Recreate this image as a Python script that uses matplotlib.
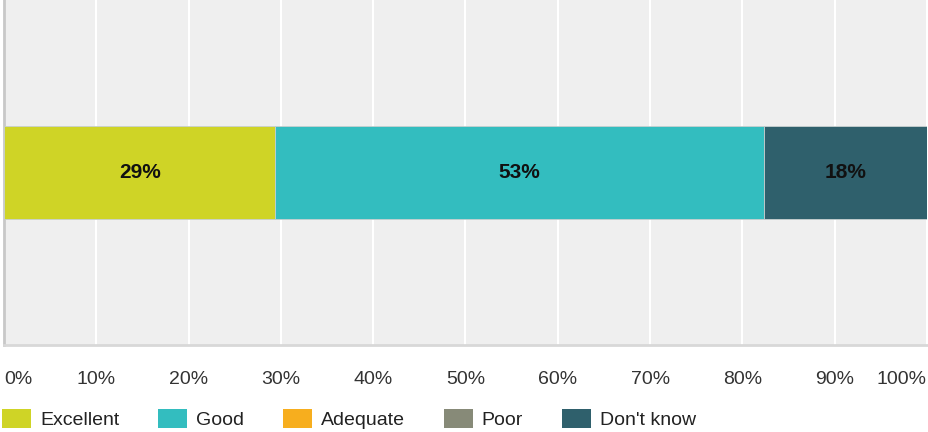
import numpy as np
import matplotlib.pyplot as plt
from matplotlib.patches import Patch

plt.rcParams['font.family'] = ['Liberation Sans', 'DejaVu Sans']

# survey answers, share of respondents (%)
categories = ['Excellent', 'Good', 'Adequate', 'Poor', "Don't know"]
values = [29.4, 52.9, 0, 0, 17.7]
labels = ['29%', '53%', '', '', '18%']
colors = ['#cfd426', '#33bdbf', '#f7ae1e', '#878a78', '#2f606c']
ticks = np.arange(0, 101, 10)
tick_labels = [f'{t}%' for t in ticks]

fig = plt.figure(figsize=(9.29, 4.32), dpi=100)
ax = fig.add_axes([4 / 929, 1 - 345 / 432, 923 / 929, 345 / 432])
ax.set_facecolor('#efefef')

left = 0
for v, c, lab in zip(values, colors, labels):
    if v > 0:
        ax.barh(0.5, v, left=left, height=93 / 345, color=c,
                edgecolor='#c8d0d0', linewidth=0.6, zorder=3)
        ax.text(left + v / 2, 0.5, lab, ha='center', va='center',
                fontsize=15, fontweight='bold', color='#111111', zorder=4)
    left += v

ax.set_xlim(0, 100)
ax.set_ylim(0, 1)
ax.set_yticks([])
ax.set_xticks(ticks)
ax.set_xticklabels(tick_labels, fontsize=14, color='#333333')
ax.tick_params(axis='x', length=0, pad=19)
tl = ax.get_xticklabels()
tl[0].set_ha('left')
tl[-1].set_ha('right')
ax.grid(axis='x', color='white', linewidth=1.5, zorder=0)
ax.set_axisbelow(True)
for s in ['top', 'right']:
    ax.spines[s].set_visible(False)
ax.spines['left'].set_color('#c8c8c8')
ax.spines['bottom'].set_color('#d8d8d8')
ax.spines['left'].set_linewidth(2)
ax.spines['bottom'].set_linewidth(2)

handles = [Patch(facecolor=c, edgecolor='none') for c in colors]
fig.legend(handles, categories, loc='center left', bbox_to_anchor=(2 / 929, 1 - 419 / 432),
           ncol=5, frameon=False, fontsize=14, handlelength=1.5,
           handleheight=1.13, handletextpad=0.45, columnspacing=2.0,
           borderpad=0, borderaxespad=0, labelcolor='#222222')

fig.savefig('out.png', dpi=100)
